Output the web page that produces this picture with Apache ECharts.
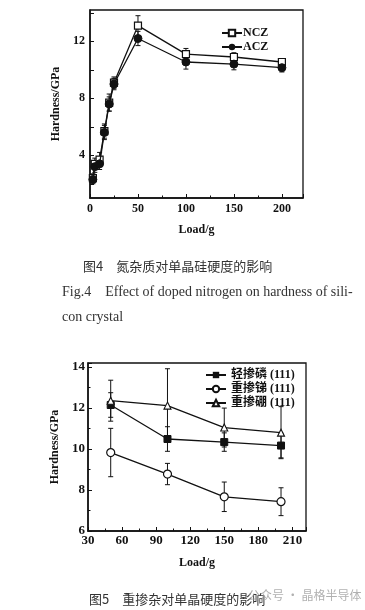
<!DOCTYPE html>
<html><head><meta charset="utf-8">
<script src="https://cdn.jsdelivr.net/npm/echarts@6/dist/echarts.min.js"></script>
<style>html,body{margin:0;padding:0;background:#fff}#c{width:365px;height:610px}</style>
</head><body><div id="c"></div>
<script>
// Fig.4 data
const loads4 = [3, 5, 10, 15, 20, 25, 50, 100, 150, 200];
const nczHard = [2.4, 3.4, 3.7, 5.7, 7.7, 9.1, 13.1, 11.1, 10.9, 10.55];
const aczHard = [2.3, 3.2, 3.4, 5.6, 7.6, 9.0, 12.2, 10.55, 10.4, 10.15];
const nczErr = [0.3, 0.4, 0.5, 0.5, 0.6, 0.4, 0.7, 0.4, 0.3, 0.2];
const aczErr = [0.3, 0.4, 0.4, 0.5, 0.5, 0.4, 0.5, 0.5, 0.4, 0.3];
const legend4 = ['NCZ', 'ACZ'];
const xTicks4 = [0, 50, 100, 150, 200];
const yTicks4 = [4, 8, 12];
// Fig.5 data
const loads5 = [50, 100, 150, 200];
const lightP = [12.15, 10.49, 10.34, 10.17];
const heavySb = [9.83, 8.78, 7.67, 7.43];
const heavyB = [12.36, 12.12, 11.05, 10.8];
const lightPErr = [0.6, 0.6, 0.45, 0.6];
const heavySbErr = [1.18, 0.52, 0.72, 0.68];
const heavyBErr = [1.0, 1.8, 0.95, 1.27];
const legend5 = ['轻掺磷 (111)', '重掺锑 (111)', '重掺硼 (111)'];
const xTicks5 = [30, 60, 90, 120, 150, 180, 210];
const yTicks5 = [6, 8, 10, 12, 14];

const SERIF = '"Liberation Serif","Noto Sans CJK SC",serif';
const INK = '#111';

function errData(xs, ys, es) { return xs.map((x, i) => [x, ys[i] - es[i], ys[i] + es[i]]); }
function errRender(params, api) {
  const x = api.value(0);
  const lo = api.coord([x, api.value(1)]);
  const hi = api.coord([x, api.value(2)]);
  const w = 2.5;
  const st = { stroke: INK, lineWidth: 1 };
  return { type: 'group', children: [
    { type: 'line', shape: { x1: lo[0], y1: lo[1], x2: hi[0], y2: hi[1] }, style: st },
    { type: 'line', shape: { x1: lo[0] - w, y1: lo[1], x2: lo[0] + w, y2: lo[1] }, style: st },
    { type: 'line', shape: { x1: hi[0] - w, y1: hi[1], x2: hi[0] + w, y2: hi[1] }, style: st }
  ]};
}
function zip(xs, ys) { return xs.map((x, i) => [x, ys[i]]); }

const axisCommon = {
  axisLine: { show: true, lineStyle: { color: INK, width: 1.5 } },
  axisTick: { show: true, inside: true, length: 4, lineStyle: { color: INK, width: 1 } },
  splitLine: { show: false },
  axisLabel: { color: INK, fontFamily: SERIF, fontWeight: 'bold', fontSize: 12, showMaxLabel: false },
  nameTextStyle: { color: INK, fontFamily: SERIF, fontWeight: 'bold', fontSize: 12 }
};

const chart = echarts.init(document.getElementById('c'), null, { renderer: 'canvas' });
chart.setOption({
  animation: false,
  backgroundColor: '#fff',
  grid: [
    { left: 90, top: 10, width: 213, height: 188, show: true, borderColor: INK, borderWidth: 1.3, backgroundColor: 'transparent' },
    { left: 88, top: 363, width: 218, height: 168, show: true, borderColor: INK, borderWidth: 1.3, backgroundColor: 'transparent' }
  ],
  xAxis: [
    Object.assign({}, axisCommon, { gridIndex: 0, type: 'value', min: 0, max: 222, interval: 50,
      minorTick: { show: true, splitNumber: 2, length: 2.5, lineStyle: { color: INK } },
      axisLabel: Object.assign({}, axisCommon.axisLabel, { margin: 5, formatter: v => xTicks4.includes(v) ? String(v) : '' }),
      name: 'Load/g', nameLocation: 'middle', nameGap: 26 }),
    Object.assign({}, axisCommon, { gridIndex: 1, type: 'value', min: 30, max: 222, interval: 30,
      minorTick: { show: true, splitNumber: 2, length: 2.5, lineStyle: { color: INK } },
      axisLabel: Object.assign({}, axisCommon.axisLabel, { margin: 3, fontSize: 13, formatter: v => xTicks5.includes(v) ? String(v) : '' }),
      name: 'Load/g', nameLocation: 'middle', nameGap: 26 })
  ],
  yAxis: [
    Object.assign({}, axisCommon, { gridIndex: 0, type: 'value', min: 1, max: 14.2, splitNumber: 7,
      axisLabel: Object.assign({}, axisCommon.axisLabel, { margin: 5, showMinLabel: false, formatter: v => yTicks4.includes(v) ? String(v) : '' }),
      name: 'Hardness/GPa', nameLocation: 'middle', nameGap: 28, nameRotate: 90 }),
    Object.assign({}, axisCommon, { gridIndex: 1, type: 'value', min: 6, max: 14.2, interval: 2,
      minorTick: { show: true, splitNumber: 2, length: 2.5, lineStyle: { color: INK } },
      axisLabel: Object.assign({}, axisCommon.axisLabel, { margin: 3, fontSize: 13, formatter: v => yTicks5.includes(v) ? String(v) : '' }),
      name: 'Hardness/GPa', nameLocation: 'middle', nameGap: 25, nameRotate: 90 })
  ],
  legend: [
    { data: legend4, orient: 'vertical', left: 216, top: 22, itemGap: 2, itemWidth: 20, itemHeight: 8,
      textStyle: { color: INK, fontFamily: SERIF, fontWeight: 'bold', fontSize: 12, padding: [0, 0, 0, -4] } },
    { data: legend5, orient: 'vertical', left: 200, top: 364, itemGap: 2, itemWidth: 20, itemHeight: 8,
      textStyle: { color: INK, fontFamily: SERIF, fontWeight: 'bold', fontSize: 12 } }
  ],
  series: [
    { name: 'NCZ', type: 'line', xAxisIndex: 0, yAxisIndex: 0, data: zip(loads4, nczHard), symbol: 'rect', symbolSize: 7,
      itemStyle: { color: '#fff', borderColor: INK, borderWidth: 1.2 }, lineStyle: { color: INK, width: 1.3 }, z: 3 },
    { name: 'ACZ', type: 'line', xAxisIndex: 0, yAxisIndex: 0, data: zip(loads4, aczHard), symbol: 'circle', symbolSize: 8,
      itemStyle: { color: INK, borderColor: INK }, lineStyle: { color: INK, width: 1.3 }, z: 4 },
    { type: 'custom', xAxisIndex: 0, yAxisIndex: 0, data: errData(loads4, nczHard, nczErr), renderItem: errRender, z: 2 },
    { type: 'custom', xAxisIndex: 0, yAxisIndex: 0, data: errData(loads4, aczHard, aczErr), renderItem: errRender, z: 2 },

    { name: legend5[0], type: 'line', xAxisIndex: 1, yAxisIndex: 1, data: zip(loads5, lightP), symbol: 'rect', symbolSize: 7,
      itemStyle: { color: INK, borderColor: INK }, lineStyle: { color: INK, width: 1.3 }, z: 4 },
    { name: legend5[1], type: 'line', xAxisIndex: 1, yAxisIndex: 1, data: zip(loads5, heavySb), symbol: 'circle', symbolSize: 8,
      itemStyle: { color: '#fff', borderColor: INK, borderWidth: 1.2 }, lineStyle: { color: INK, width: 1.3 }, z: 4 },
    { name: legend5[2], type: 'line', xAxisIndex: 1, yAxisIndex: 1, data: zip(loads5, heavyB), symbol: 'triangle', symbolSize: 7,
      itemStyle: { color: '#fff', borderColor: INK, borderWidth: 1.1 }, lineStyle: { color: INK, width: 1.3 }, z: 4 },
    { type: 'custom', xAxisIndex: 1, yAxisIndex: 1, data: errData(loads5, lightP, lightPErr), renderItem: errRender, z: 2 },
    { type: 'custom', xAxisIndex: 1, yAxisIndex: 1, data: errData(loads5, heavySb, heavySbErr), renderItem: errRender, z: 2 },
    { type: 'custom', xAxisIndex: 1, yAxisIndex: 1, data: errData(loads5, heavyB, heavyBErr), renderItem: errRender, z: 2 }
  ],
  graphic: [
    { type: 'text', left: 83, top: 260, style: { text: '图4　氮杂质对单晶硅硬度的影响', font: '13px "Noto Sans CJK SC"', fill: '#333' } },
    { type: 'text', left: 62, top: 285, style: { text: 'Fig.4　Effect of doped nitrogen on hardness of sili-', font: '14px "Liberation Serif"', fill: '#333' } },
    { type: 'text', left: 62, top: 310, style: { text: 'con crystal', font: '14px "Liberation Serif"', fill: '#333' } },
    { type: 'text', left: 89, top: 593, style: { text: '图5　重掺杂对单晶硬度的影响', font: '13px "Noto Sans CJK SC"', fill: '#333' } },
    { type: 'text', left: 248, top: 589, style: { text: '公众号 · 晶格半导体', font: '12px "Noto Sans CJK SC"', fill: 'rgba(150,150,150,0.75)' } }
  ]
});
</script></body></html>
